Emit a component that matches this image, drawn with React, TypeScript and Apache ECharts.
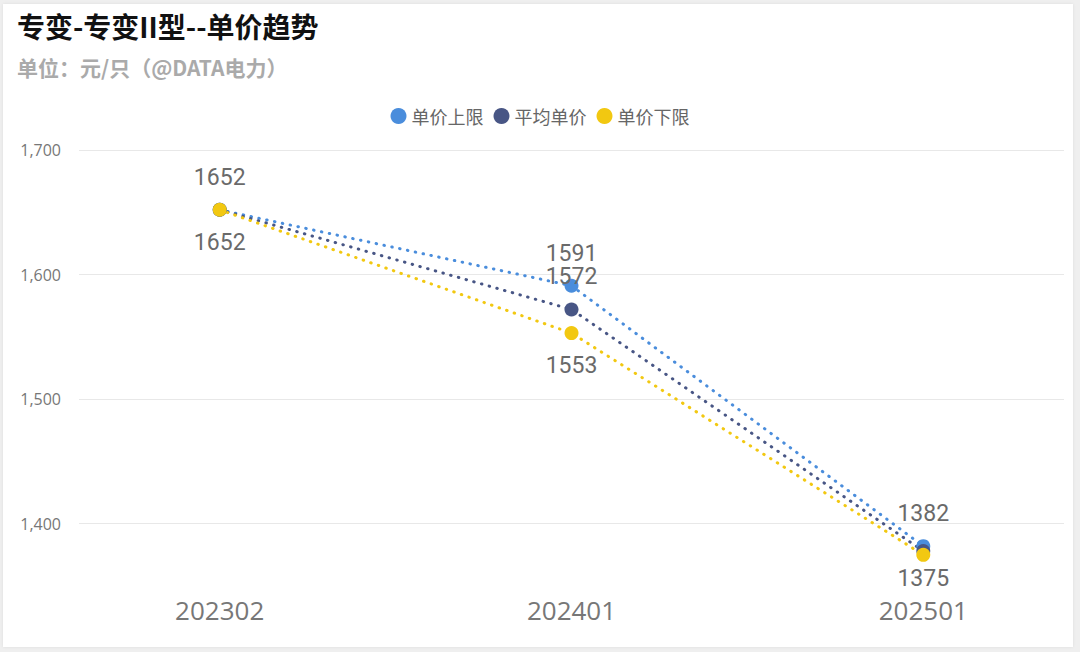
import { useEffect, useRef } from "react";
import * as echarts from "echarts";

const TITLE = "专变-专变II型--单价趋势";
const SUBTITLE = "单位：元/只（@DATA电力）";

const PERIODS = ["202302", "202401", "202501"];
const UPPER = [1652, 1591, 1382];
const AVERAGE = [1652, 1572, 1378];
const LOWER = [1652, 1553, 1375];
const SERIES_NAMES = ["单价上限", "平均单价", "单价下限"];
const COLORS = ["#4A8DDC", "#485685", "#F2C811"];

const LABEL_FONT = "Roboto, 'Noto Sans', sans-serif";
const AXIS_FONT = "'Open Sans', 'Noto Sans', sans-serif";
const CJK_FONT = "'Noto Sans CJK SC', 'Noto Sans', sans-serif";

export default function App() {
  const chartRef = useRef<HTMLDivElement>(null);

  useEffect(() => {
    if (!chartRef.current) return;
    const chart = echarts.init(chartRef.current, undefined, { renderer: "svg" });

    const dotted = (color: string) => ({
      color,
      width: 3,
      type: [0.5, 7.5] as number[],
      cap: "round" as const,
    });

    const label = (position: "top" | "bottom") => ({
      show: true,
      position,
      distance: 14,
      fontFamily: LABEL_FONT,
      fontSize: 23,
      color: "#6a6a6a",
    });

    // x is a value axis so the outer points can sit a bit inside the plot edges
    const periodLabel = (v: number) => {
      const i = Math.round(v);
      return Math.abs(v - i) < 1e-6 ? PERIODS[i] ?? "" : "";
    };

    const option: echarts.EChartsOption = {
      animation: false,
      title: [
        {
          text: TITLE,
          left: 17,
          top: 12,
          padding: 0,
          textStyle: { fontFamily: CJK_FONT, fontSize: 28, fontWeight: "bold", color: "#111" },
        },
        {
          text: SUBTITLE,
          left: 17,
          top: 56,
          padding: 0,
          textStyle: { fontFamily: CJK_FONT, fontSize: 21, fontWeight: "bold", color: "#aaaaaa" },
        },
      ],
      legend: {
        top: 102,
        left: "center",
        icon: "circle",
        itemWidth: 16,
        itemHeight: 16,
        itemGap: 10,
        textStyle: { fontFamily: CJK_FONT, fontSize: 18, color: "#666" },
        data: SERIES_NAMES,
      },
      grid: { left: 79, right: 16, top: 150, bottom: 66 },
      xAxis: {
        type: "value",
        min: -0.4,
        max: 2.4,
        interval: 0.2,
        axisLine: { show: false },
        axisTick: { show: false },
        splitLine: { show: false },
        axisLabel: {
          margin: 11,
          fontFamily: AXIS_FONT,
          fontSize: 26,
          color: "#777",
          formatter: periodLabel,
        },
      },
      yAxis: {
        type: "value",
        min: 1350,
        max: 1700,
        axisLine: { show: false },
        axisTick: { show: false },
        splitLine: { show: true, showMinLine: false, lineStyle: { color: "#e8e8e8", width: 1 } },
        axisLabel: {
          showMinLabel: false,
          margin: 18,
          fontFamily: AXIS_FONT,
          fontSize: 16,
          color: "#777",
          formatter: (v: number) => v.toLocaleString("en-US"),
        },
      },
      series: [
        {
          name: SERIES_NAMES[0],
          type: "line",
          data: UPPER.map((v, i) => [i, v]),
          symbol: "circle",
          symbolSize: 14,
          itemStyle: { color: COLORS[0] },
          lineStyle: dotted(COLORS[0]),
          label: label("top"),
        },
        {
          name: SERIES_NAMES[1],
          type: "line",
          // only the middle label is visible, the others sit under the neighbours
          data: AVERAGE.map((v, i) => ({ value: [i, v], label: { show: i === 1 } })),
          symbol: "circle",
          symbolSize: 14,
          itemStyle: { color: COLORS[1] },
          lineStyle: dotted(COLORS[1]),
          label: label("top"),
        },
        {
          name: SERIES_NAMES[2],
          type: "line",
          data: LOWER.map((v, i) => (i === 2 ? { value: [i, v], label: { distance: 5 } } : [i, v])),
          symbol: "circle",
          symbolSize: 14,
          itemStyle: { color: COLORS[2] },
          lineStyle: dotted(COLORS[2]),
          label: label("bottom"),
        },
      ],
    };

    chart.setOption(option);
    return () => chart.dispose();
  }, []);

  return (
    <div style={{ position: "relative", width: 1080, height: 652, background: "#efefef", overflow: "hidden" }}>
      <style>{`body { margin: 0; }`}</style>
      <div
        style={{
          position: "absolute",
          left: 3,
          top: 4,
          width: 1070,
          height: 643,
          background: "#fff",
          boxShadow: "0 0 3px rgba(0,0,0,0.08)",
        }}
      />
      <div ref={chartRef} style={{ position: "absolute", left: 0, top: 0, width: 1080, height: 652 }} />
    </div>
  );
}
